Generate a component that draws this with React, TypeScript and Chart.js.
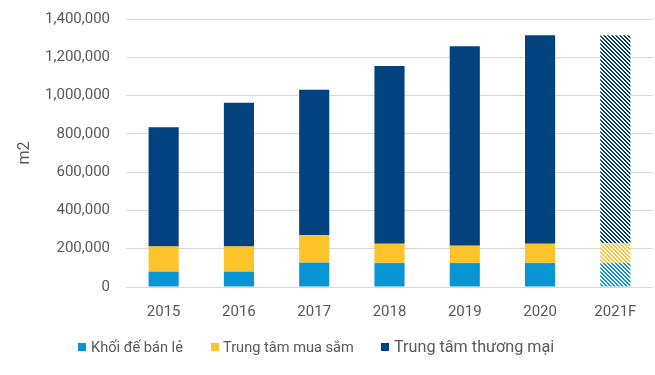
import React, { useEffect, useRef } from "react";
import { Chart, registerables } from "chart.js";

Chart.register(...registerables);

const categories = ["2015", "2016", "2017", "2018", "2019", "2020", "2021F"];
const retailPodium = [80000, 80000, 127000, 125000, 125000, 125000, 125000];
const shoppingCenter = [132000, 132000, 143000, 101000, 91000, 101000, 104000];
const commercialCenter = [623000, 750000, 760000, 928000, 1041000, 1089000, 1086000];
const forecastFlags = [false, false, false, false, false, false, true];
const seriesNames = ["Khối đế bán lẻ", "Trung tâm mua sắm", "Trung tâm thương mại"];
const seriesColors = ["#0795d3", "#fcc32a", "#02427f"];
const yAxisTitle = "m2";
const yMax = 1400000;
const yStep = 200000;

function makeHatch(color: string): CanvasPattern | string {
  const tile = document.createElement("canvas");
  tile.width = 4;
  tile.height = 4;
  const c = tile.getContext("2d");
  if (!c) return color;
  c.fillStyle = "#ffffff";
  c.fillRect(0, 0, 4, 4);
  c.fillStyle = color;
  for (let y = 0; y < 4; y++) {
    for (let x = 0; x < 4; x++) {
      if ((((x - y) % 4) + 4) % 4 < 2) c.fillRect(x, y, 1, 1);
    }
  }
  const p = c.createPattern(tile, "repeat");
  return p || color;
}

export default function App() {
  const ref = useRef<HTMLCanvasElement | null>(null);

  useEffect(() => {
    if (!ref.current) return;
    const series = [retailPodium, shoppingCenter, commercialCenter];
    const datasets = series.map((vals, i) => {
      const hatch = makeHatch(seriesColors[i]);
      return {
        label: seriesNames[i],
        data: vals,
        backgroundColor: vals.map((_, j) => (forecastFlags[j] ? hatch : seriesColors[i])),
        borderWidth: 0,
        categoryPercentage: 0.4,
        barPercentage: 1,
      };
    });
    const chart = new Chart(ref.current, {
      type: "bar",
      data: { labels: categories, datasets: datasets as any },
      options: {
        animation: false,
        responsive: false,
        layout: { padding: { top: 19, right: 2, left: 0, bottom: 0 } },
        plugins: { legend: { display: false }, tooltip: { enabled: false } },
        scales: {
          x: {
            stacked: true,
            grid: { display: false, drawTicks: false },
            border: { display: false },
            ticks: {
              color: "#595959",
              font: { family: "Roboto", size: 15 },
              padding: 16,
            },
            afterFit: (s: any) => {
              s.height = 88;
              s.paddingLeft = 0;
              s.paddingRight = 0;
            },
          },
          y: {
            stacked: true,
            min: 0,
            max: yMax,
            grid: { color: "#d9d9d9", lineWidth: 1, drawTicks: false },
            border: { display: false },
            ticks: {
              stepSize: yStep,
              color: "#595959",
              font: { family: "Roboto", size: 15 },
              padding: 16,
              callback: (v: any) => Number(v).toLocaleString("en-US"),
            },
            title: {
              display: true,
              text: yAxisTitle,
              color: "#595959",
              font: { family: "Roboto", size: 16 },
              padding: { top: 15, bottom: 0 },
            },
            afterFit: (s: any) => {
              s.width = 126;
              s.paddingTop = 0;
              s.paddingBottom = 0;
            },
          },
        },
      },
    });
    return () => chart.destroy();
  }, []);

  const legendItems = [
    { left: 78, textLeft: 91, size: 14.6 },
    { left: 211, textLeft: 223, size: 14.6 },
    { left: 381, textLeft: 394, size: 16.2 },
  ];

  return (
    <div
      style={{
        position: "fixed",
        left: 0,
        top: 0,
        width: 655,
        height: 375,
        background: "#ffffff",
        fontFamily: "Roboto",
      }}
    >
      <canvas ref={ref} width={655} height={375} style={{ display: "block" }} />
      {seriesNames.map((name, i) => (
        <React.Fragment key={name}>
          <div
            style={{
              position: "absolute",
              left: legendItems[i].left,
              top: 343,
              width: 8,
              height: 8,
              background: seriesColors[i],
            }}
          />
          <div
            style={{
              position: "absolute",
              left: legendItems[i].textLeft,
              top: 347,
              transform: "translateY(-50%)",
              fontSize: legendItems[i].size,
              color: "#595959",
              whiteSpace: "nowrap",
              lineHeight: 1,
            }}
          >
            {name}
          </div>
        </React.Fragment>
      ))}
    </div>
  );
}
